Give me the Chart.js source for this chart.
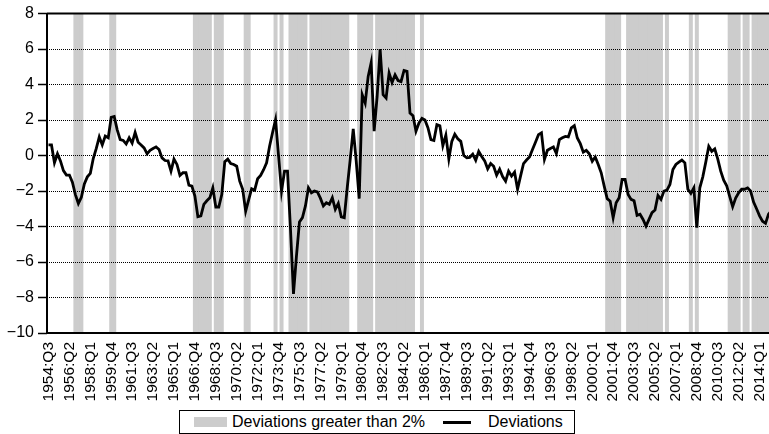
<!DOCTYPE html>
<html>
<head>
<meta charset="utf-8">
<script src="https://cdn.jsdelivr.net/npm/chart.js@4.4.1/dist/chart.umd.min.js"></script>
<style>
body { margin: 0; background: #fff; overflow: hidden; }
#wrap { position: relative; width: 769px; height: 434px; overflow: hidden; }
#myChart { position: absolute; left: 0; top: 0; }
#legend {
    position: absolute; left: 179px; top: 410px; width: 396px; height: 24px;
    border: 1px solid #000; box-sizing: border-box; background: #fff;
    font: 16px 'Liberation Sans', Arial, sans-serif; color: #000;
    display: flex; align-items: center; white-space: nowrap;
}
#legend .box { display: inline-block; width: 33px; height: 10px; background: #cccccc; margin-left: 14px; }
#legend .line { display: inline-block; width: 28px; height: 3px; background: #000; margin-left: 18px; }
#legend .txt { margin-left: 5px; }
</style>
</head>
<body>
<div id="wrap">
    <!-- the plot runs a few pixels past the right edge, as in the cropped original -->
    <canvas id="myChart" width="773" height="434"></canvas>
    <div id="legend">
        <span class="box"></span><span class="txt">Deviations greater than 2%</span>
        <span class="line"></span><span class="txt" style="margin-left:17px">Deviations</span>
    </div>
</div>
<script>
// quarterly series, first point 1954:Q3
const START_YEAR = 1954;
const START_QUARTER = 3;
const LABEL_EVERY = 7;

const deviations = [
    0.6, 0.6, -0.4, 0.1, -0.3, -0.85, -1.1, -1.1, -1.5, -2.2,
    -2.7, -2.35, -1.6, -1.2, -1.0, -0.15, 0.4, 1.05, 0.6, 1.1,
    1.0, 2.15, 2.2, 1.45, 0.9, 0.85, 0.65, 1.0, 0.7, 1.3,
    0.75, 0.6, 0.43, 0.1, 0.3, 0.4, 0.49, 0.34, -0.13, -0.28,
    -0.3, -0.88, -0.2, -0.5, -1.12, -0.97, -0.97, -1.67, -1.72, -2.28,
    -3.45, -3.4, -2.75, -2.55, -2.38, -1.82, -2.9, -2.9, -2.2, -0.35,
    -0.2, -0.45, -0.5, -0.6, -1.44, -1.9, -3.13, -2.5, -1.87, -1.95,
    -1.31, -1.12, -0.8, -0.41, 0.52, 1.3, 2.02, 0.0, -2.0, -0.88,
    -0.88, -4.16, -7.8, -5.65, -3.74, -3.5, -2.84, -1.82, -2.1, -2.0,
    -2.05, -2.4, -2.84, -2.66, -2.75, -2.38, -3.03, -2.7, -3.45, -3.5,
    -1.8, -0.2, 1.5, -0.32, -2.43, 3.43, 2.96, 4.46, 5.24, 1.37,
    3.33, 6.0, 3.43, 3.24, 4.65, 4.12, 4.55, 4.23, 4.17, 4.8,
    4.75, 2.4, 2.25, 1.37, 1.84, 2.1, 2.0, 1.57, 0.9, 0.85,
    1.74, 1.68, 0.56, 1.15, -0.19, 0.8, 1.2, 0.95, 0.8, 0.0,
    -0.13, -0.1, 0.08, -0.27, 0.24, -0.05, -0.3, -0.75, -0.45, -0.6,
    -1.1, -0.77, -1.18, -1.44, -0.88, -1.16, -0.94, -1.9, -1.16, -0.45,
    -0.25, -0.08, 0.34, 0.75, 1.18, 1.28, -0.22, 0.3, 0.4, 0.49,
    0.11, 0.9, 1.0, 1.08, 1.05, 1.56, 1.69, 0.99, 0.67, 0.19,
    0.3, 0.1, -0.32, -0.08, -0.5, -0.97, -1.72, -2.43, -2.57, -3.5,
    -2.66, -2.38, -1.35, -1.35, -2.19, -2.47, -2.55, -3.37, -3.31, -3.6,
    -3.97, -3.6, -3.22, -3.07, -2.25, -2.47, -2.0, -1.95, -1.63, -0.79,
    -0.5, -0.37, -0.25, -0.41, -1.9, -2.13, -1.82, -4.06, -1.82, -1.2,
    -0.37, 0.52, 0.24, 0.38, -0.19, -0.88, -1.39, -1.7, -2.3, -2.88,
    -2.4, -2.1, -1.9, -1.9, -1.82, -2.0, -2.62, -3.0, -3.4, -3.7,
    -3.82, -3.3, -3.1
];

// periods shaded grey (deviation beyond 2%)
const shadedPeriods = [
    ['1956:Q4', '1957:Q2'],
    ['1959:Q4', '1960:Q1'],
    ['1966:Q4', '1968:Q1'],
    ['1968:Q3', '1969:Q1'],
    ['1971:Q1', '1971:Q2'],
    ['1973:Q3', '1973:Q3'],
    ['1974:Q1', '1974:Q1'],
    ['1974:Q4', '1976:Q1'],
    ['1976:Q3', '1979:Q3'],
    ['1980:Q3', '1981:Q3'],
    ['1982:Q1', '1985:Q1'],
    ['1985:Q4', '1985:Q4'],
    ['2001:Q2', '2002:Q2'],
    ['2003:Q1', '2005:Q4'],
    ['2006:Q2', '2006:Q2'],
    ['2008:Q2', '2008:Q2'],
    ['2008:Q4', '2008:Q4'],
    ['2011:Q3', '2012:Q2'],
    ['2012:Q4', '2013:Q1'],
    ['2013:Q3', '2015:Q1']
];

const Y_MIN = -10;
const Y_MAX = 8;
const Y_STEP = 2;

const quarters = [];
for (let i = 0; i < deviations.length; i++) {
    let n = START_QUARTER - 1 + i;
    quarters.push((START_YEAR + Math.floor(n / 4)) + ':Q' + (n % 4 + 1));
}

var shade = quarters.map(() => null);
shadedPeriods.forEach(p => {
    let a = quarters.indexOf(p[0]);
    let b = quarters.indexOf(p[1]);
    for (let i = a; i <= b; i++) shade[i] = [Y_MIN, Y_MAX];
});

const FONT = "'Liberation Sans', Arial, Helvetica, sans-serif";

// black frame: left axis, top and bottom lines
const framePlugin = {
    id: 'frame',
    afterDraw(chart) {
        const {ctx, chartArea: a} = chart;
        ctx.save();
        ctx.strokeStyle = '#000';
        ctx.lineWidth = 2;
        ctx.beginPath();
        ctx.moveTo(a.left, a.top);
        ctx.lineTo(a.right, a.top);
        ctx.moveTo(a.left, a.top);
        ctx.lineTo(a.left, a.bottom);
        ctx.lineTo(a.right, a.bottom);
        ctx.stroke();
        ctx.restore();
    }
};

const ctx = document.getElementById('myChart').getContext('2d');
var myChart = new Chart(ctx, {
    type: 'bar',
    data: {
        labels: quarters,
        datasets: [
            {
                type: 'line',
                label: 'Deviations',
                data: deviations,
                borderColor: '#000',
                borderWidth: 2.8,
                pointRadius: 0,
                tension: 0,
                order: 0
            },
            {
                type: 'bar',
                label: 'Deviations greater than 2%',
                data: shade,
                backgroundColor: '#cccccc',
                borderWidth: 0,
                barPercentage: 1,
                categoryPercentage: 1,
                inflateAmount: 0.5,
                order: 1
            }
        ]
    },
    options: {
        responsive: false,
        devicePixelRatio: 1,
        animation: false,
        layout: { padding: { top: 13, right: 0, bottom: 24, left: 0 } },
        plugins: {
            legend: { display: false },
            tooltip: { enabled: false }
        },
        scales: {
            x: {
                type: 'category',
                offset: true,
                grid: { display: false, drawTicks: false, offset: true },
                border: { display: false },
                ticks: {
                    autoSkip: false,
                    minRotation: 90,
                    maxRotation: 90,
                    padding: 9,
                    color: '#000',
                    font: { family: FONT, size: 15.5 },
                    callback: (v, i) => (i % LABEL_EVERY === 0 ? quarters[i] : null)
                },
                afterFit: s => {
                    s.height = 77;
                    s.paddingLeft = 0;
                    s.paddingRight = 0;
                }
            },
            y: {
                min: Y_MIN,
                max: Y_MAX,
                ticks: {
                    stepSize: Y_STEP,
                    padding: 4,
                    color: '#000',
                    font: { family: FONT, size: 16 },
                    callback: v => String(v).replace('-', '\u2212')
                },
                grid: {
                    z: 1,
                    lineWidth: 1,
                    color: c => (c.tick && (c.tick.value === Y_MAX || c.tick.value === Y_MIN)) ? 'rgba(0,0,0,0)' : '#000',
                    tickColor: '#000',
                    tickLength: 9,
                    tickWidth: 1.5,
                    tickBorderDash: []
                },
                border: { display: false, dash: [1, 1] },
                afterFit: s => { s.width = 47; }
            }
        }
    },
    plugins: [framePlugin]
});
</script>
</body>
</html>
